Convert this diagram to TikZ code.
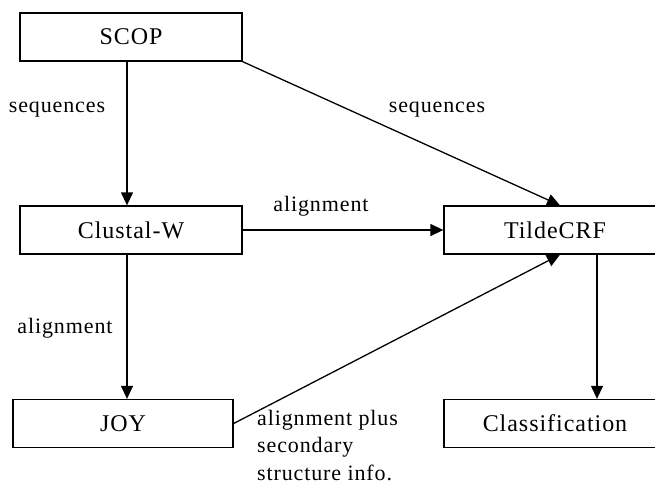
\documentclass[tikz,border=0pt]{standalone}
\usepackage{fontspec}
\setmainfont{Liberation Serif}
\newfontfamily\boxfont[LetterSpace=4]{Liberation Serif}
\usetikzlibrary{arrows.meta,calc}
\begin{document}
\begin{tikzpicture}[x=1pt,y=-1pt,
  box/.style={draw,line width=1.3pt,minimum width=222pt,minimum height=48pt,inner sep=0pt,font=\boxfont\fontsize{24}{27}\selectfont},
  arr/.style={line width=1.3pt,-{Triangle[width=12pt,length=13pt]}},
  lbl/.style={inner sep=0pt,font=\boxfont\fontsize{22}{27.5}\selectfont}]
\useasboundingbox (0,0) rectangle (655,487);
\node[box] (scop) at (131,37) {SCOP};
\node[box] (clustal) at (131,230) {Clustal-W};
\node[box,minimum width=220pt] (joy) at (123,423.5) {JOY};
\node[box] (tilde) at (555,230) {TildeCRF};
\node[box] (class) at (555,423.5) {Classification};
\coordinate (xa) at (127,0);
\coordinate (xb) at (597,0);
\draw[arr] (scop.south -| xa) -- (clustal.north -| xa);
\draw[arr] (clustal.south -| xa) -- (joy.north -| xa);
\draw[arr] (scop.south east) -- ([xshift=5pt]tilde.north);
\draw[arr] (clustal.east) -- (tilde.west);
\draw[arr] (joy.east) -- ([xshift=5pt]tilde.south);
\draw[arr] (tilde.south -| xb) -- (class.north -| xb);
\node[lbl] (l1) at (57,110) {sequences};
\node[lbl] (l2) at (437,110) {sequences};
\node[lbl] (l3) at (321,206) {alignment};
\node[lbl] (l4) at (65,328) {alignment};
\node[lbl,anchor=north west,align=left] (l5) at (257,410) {alignment plus\\secondary\\structure info.};
\end{tikzpicture}
\end{document}
